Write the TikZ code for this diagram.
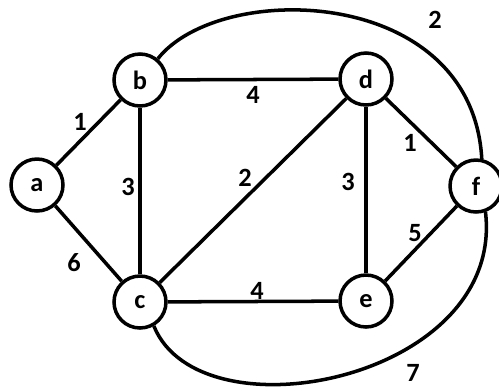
\documentclass[tikz,border=0pt]{standalone}
\usepackage{fontspec}
\setmainfont{Carlito}
\begin{document}
\begin{tikzpicture}[x=0.02cm,y=-0.02cm,
  vert/.style={circle,draw,line width=2pt,minimum size=1.04cm,inner sep=0pt,font=\fontsize{15}{17}\selectfont\bfseries},
  edge/.style={line width=2pt},
  wt/.style={font=\fontsize{15}{17}\selectfont\bfseries,inner sep=0pt}]
\useasboundingbox (0,0) rectangle (499,390);
\node[vert] (a) at (37,185) {a};
\node[vert] (b) at (140,80) {b};
\node[vert] (c) at (140,302) {c};
\node[vert] (d) at (366,79) {d};
\node[vert] (e) at (366,301) {e};
\node[vert] (f) at (476,186) {f};
\draw[edge] (a) -- (b);
\draw[edge] (a) -- (c);
\draw[edge] (b) -- (d);
\draw[edge] (b) -- (c);
\draw[edge] (c) -- (d);
\draw[edge] (d) -- (e);
\draw[edge] (c) -- (e);
\draw[edge] (d) -- (f);
\draw[edge] (e) -- (f);
\draw[edge] (b.50) .. controls (220,-20) and (472,-15) .. (f.78);
\draw[edge] (c.-60) .. controls (200,440) and (505,380) .. (f.-70);
\node[wt] (w1) at (80,122) {1};
\node[wt] (w6) at (74,263) {6};
\node[wt] (w3a) at (128,187) {3};
\node[wt] (w4a) at (253,95) {4};
\node[wt] (w2a) at (245,178) {2};
\node[wt] (w3b) at (348,182) {3};
\node[wt] (w1b) at (410,143) {1};
\node[wt] (w2b) at (435,20) {2};
\node[wt] (w5) at (415,233) {5};
\node[wt] (w4b) at (257,291) {4};
\node[wt] (w7) at (413,373) {7};
\end{tikzpicture}
\end{document}
